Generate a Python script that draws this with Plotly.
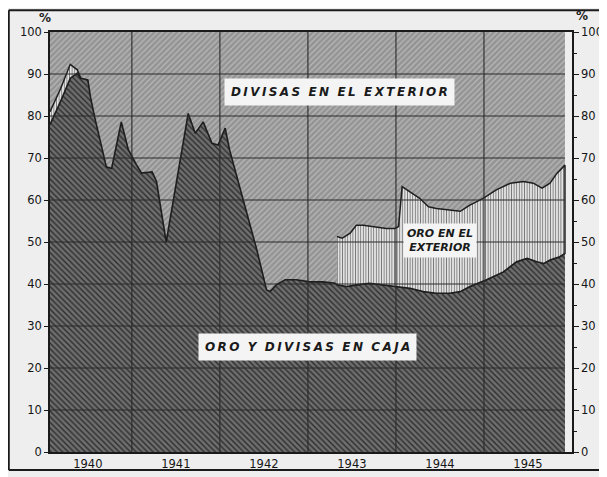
import plotly.graph_objects as go

# ---- data ----
years = ["1940", "1941", "1942", "1943", "1944", "1945"]
year_centers = [1940.5, 1941.5, 1942.5, 1943.5, 1944.5, 1945.5]
year_bounds = [1941, 1942, 1943, 1944, 1945]
pct_ticks = [0, 10, 20, 30, 40, 50, 60, 70, 80, 90, 100]

# ORO Y DIVISAS EN CAJA (% of total)
caja_x = [1940.07, 1940.19, 1940.30, 1940.38, 1940.42, 1940.50, 1940.53, 1940.58,
          1940.71, 1940.77, 1940.88, 1940.96, 1941.05, 1941.11, 1941.23, 1941.28,
          1941.39, 1941.64, 1941.72, 1941.81, 1941.91, 1941.98, 1942.06, 1942.11,
          1942.42, 1942.53, 1942.57, 1942.64, 1942.74, 1942.87, 1943.02, 1943.17,
          1943.31, 1943.33, 1943.44, 1943.55, 1943.70, 1943.86, 1944.01, 1944.16,
          1944.31, 1944.46, 1944.61, 1944.73, 1944.84, 1945.03, 1945.22, 1945.37,
          1945.49, 1945.60, 1945.68, 1945.75, 1945.86, 1945.92]
caja_y = [78.0, 83.5, 89.0, 90.2, 89.0, 88.6, 84.5, 79.5,
          67.9, 67.5, 78.6, 72.0, 68.5, 66.4, 66.7, 64.4,
          50.0, 80.6, 75.9, 78.6, 73.5, 73.1, 77.1, 71.9,
          48.1, 38.6, 38.2, 39.8, 41.0, 41.0, 40.5, 40.5,
          40.2, 39.8, 39.4, 39.8, 40.2, 39.8, 39.4, 39.0,
          38.2, 37.8, 37.8, 38.2, 39.4, 41.0, 42.9, 45.3,
          46.1, 45.3, 44.9, 45.7, 46.5, 47.3]

# caja + ORO EN EL EXTERIOR (upper edge of the gold-abroad band)
oro1_x = [1940.07, 1940.19, 1940.30, 1940.38, 1940.42]
oro1_top = [81.0, 86.5, 92.3, 91.0, 89.0]

oro2_x = [1943.33, 1943.39, 1943.48, 1943.55, 1943.63, 1943.74, 1943.89, 1943.99,
          1944.03, 1944.07, 1944.16, 1944.27, 1944.37, 1944.46, 1944.61, 1944.73,
          1944.84, 1944.99, 1945.14, 1945.30, 1945.45, 1945.56, 1945.66, 1945.75,
          1945.83, 1945.90, 1945.92]
oro2_top = [51.3, 50.9, 52.1, 54.0, 54.0, 53.6, 53.2, 53.2,
            53.7, 63.2, 62.0, 60.4, 58.4, 58.0, 57.6, 57.3,
            58.8, 60.4, 62.4, 64.0, 64.4, 64.0, 62.8, 64.0,
            66.4, 68.0, 68.3]

full_x = [caja_x[0], caja_x[-1]]
full_y = [100, 100]


def band(top_x, top_y):
    lo, hi = top_x[0], top_x[-1]
    bx = [x for x in caja_x if lo <= x <= hi]
    by = [y for x, y in zip(caja_x, caja_y) if lo <= x <= hi]
    return list(top_x) + bx[::-1], list(top_y) + by[::-1]


def spaced(s):
    return "\u2009".join(s).replace("\u2009 \u2009", "  ")


fig = go.Figure()

# DIVISAS EN EL EXTERIOR (everything up to 100 %)
fig.add_trace(go.Scatter(
    x=full_x, y=full_y, mode="lines", line=dict(width=0), fill="tozeroy",
    fillcolor="#979797",
    fillpattern=dict(shape="/", bgcolor="#949494", fgcolor="#b9b9b9",
                     size=4, solidity=0.3, fillmode="replace"),
    hoverinfo="skip", showlegend=False))

# ORO Y DIVISAS EN CAJA
fig.add_trace(go.Scatter(
    x=caja_x, y=caja_y, mode="lines", line=dict(color="#1e1e1e", width=1.6),
    fill="tozeroy", fillcolor="#5e5e5e",
    fillpattern=dict(shape="\\", bgcolor="#6e6e6e", fgcolor="#2e2e2e",
                     size=4, solidity=0.35, fillmode="replace"),
    hoverinfo="skip", showlegend=False))

# ORO EN EL EXTERIOR bands
for tx, ty in [(oro1_x, oro1_top), (oro2_x, oro2_top)]:
    px, py = band(tx, ty)
    fig.add_trace(go.Scatter(
        x=px, y=py, mode="lines", line=dict(color="#1e1e1e", width=1.5),
        fill="toself", fillcolor="#dcdcdc",
        fillpattern=dict(shape="|", bgcolor="#e2e2e2", fgcolor="#7a7a7a",
                         size=2.6, solidity=0.35, fillmode="replace"),
        hoverinfo="skip", showlegend=False))

# invisible trace for right axis
fig.add_trace(go.Scatter(x=full_x, y=[0, 100], yaxis="y2", mode="lines",
                         line=dict(width=0), hoverinfo="skip", showlegend=False))

# grid drawn over the fills
grid = dict(color="#2a2a2a", width=1.1)
for v in pct_ticks[1:-1]:
    fig.add_shape(type="line", xref="x", x0=full_x[0], x1=full_x[1], yref="y",
                  y0=v, y1=v, line=grid, layer="above")
for yb in year_bounds:
    fig.add_shape(type="line", xref="x", x0=yb, x1=yb, yref="paper", y0=0, y1=1,
                  line=grid, layer="above")

# outer frame of the scan
frame = dict(color="#1a1a1a", width=2)
fig.add_shape(type="line", xref="paper", yref="paper", x0=-0.079, x1=1.07,
              y0=1.052, y1=1.052, line=frame)
fig.add_shape(type="line", xref="paper", yref="paper", x0=-0.079, x1=-0.079,
              y0=1.052, y1=-0.043, line=frame)
fig.add_shape(type="line", xref="paper", yref="paper", x0=-0.079, x1=1.07,
              y0=-0.043, y1=-0.043, line=frame)

lab_font = dict(family="DejaVu Sans", size=12, color="#1a1a1a")
box = dict(bgcolor="#f4f4f4", borderpad=6, showarrow=False)
fig.add_annotation(x=1943.36, y=85.7, text="<b><i>" + spaced("DIVISAS EN EL EXTERIOR") + "</i></b>",
                   font=lab_font, **box)
fig.add_annotation(x=1944.5, y=50.3, text="<b><i>ORO EN EL<br>EXTERIOR</i></b>",
                   font=dict(family="DejaVu Sans", size=11, color="#1a1a1a"),
                   bgcolor="#f4f4f4", borderpad=3, showarrow=False)
fig.add_annotation(x=1943.0, y=25.0, text="<b><i>" + spaced("ORO Y DIVISAS EN CAJA") + "</i></b>",
                   font=lab_font, **box)

pct_font = dict(family="DejaVu Sans", size=12, color="#1a1a1a")
fig.add_annotation(xref="paper", yref="paper", x=-0.025, y=1.033, yanchor="middle",
                   text="<b>%</b>", showarrow=False, font=pct_font)
fig.add_annotation(xref="paper", yref="paper", x=1.034, y=1.038, yanchor="middle",
                   text="<b>%</b>", showarrow=False, font=pct_font)

tick_font = dict(family="DejaVu Sans", size=11.5, color="#151515")
fig.update_layout(
    width=599, height=469,
    margin=dict(l=42, r=35, t=24, b=25, autoexpand=False),
    paper_bgcolor="#eeeeee", plot_bgcolor="#eeeeee",
    xaxis=dict(range=[1940.07, 1946.0], tickvals=year_centers, ticktext=years,
               showgrid=False, zeroline=False, ticks="", tickfont=tick_font,
               showline=True, linecolor="#1a1a1a", linewidth=1.5, mirror=True,
               automargin=False, fixedrange=True),
    yaxis=dict(range=[0, 100], tickvals=pct_ticks, showgrid=False, zeroline=False,
               ticks="outside", ticklen=4, tickcolor="#1a1a1a", tickfont=tick_font,
               showline=True, linecolor="#1a1a1a", linewidth=1.5, automargin=False),
    yaxis2=dict(range=[0, 100], tickvals=pct_ticks, overlaying="y", side="right",
                showgrid=False, zeroline=False, ticks="outside", ticklen=5,
                tickcolor="#1a1a1a", tickfont=tick_font, showline=True,
                linecolor="#1a1a1a", linewidth=1.5, automargin=False,
                minor=dict(tickvals=[5, 15, 25, 35, 45, 55, 65, 75, 85, 95],
                           ticks="outside", ticklen=3, tickcolor="#1a1a1a")),
)

fig.write_html("out.html")
